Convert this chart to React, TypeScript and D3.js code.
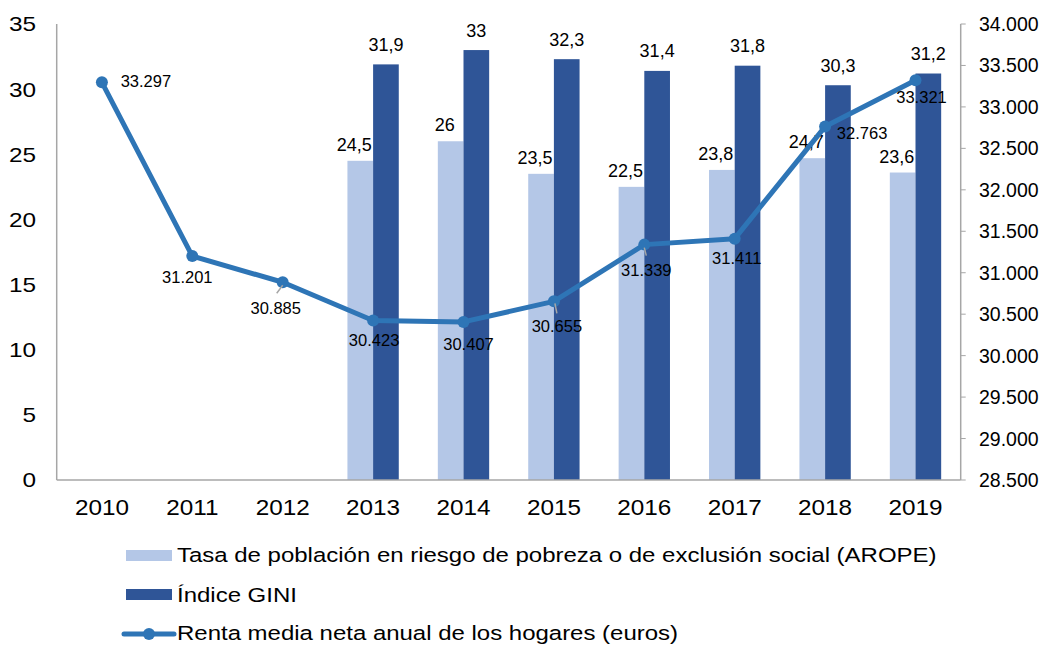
import React from 'react';
import * as d3 from 'd3';

const years = ['2010', '2011', '2012', '2013', '2014', '2015', '2016', '2017', '2018', '2019'];
const arope: (number | null)[] = [null, null, null, 24.5, 26, 23.5, 22.5, 23.8, 24.7, 23.6];
const gini: (number | null)[] = [null, null, null, 31.9, 33, 32.3, 31.4, 31.8, 30.3, 31.2];
const renta = [33297, 31201, 30885, 30423, 30407, 30655, 31339, 31411, 32763, 33321];
const leftTicks = [0, 5, 10, 15, 20, 25, 30, 35];
const rightTicks = [28500, 29000, 29500, 30000, 30500, 31000, 31500, 32000, 32500, 33000, 33500, 34000];
const legendLabels = [
  'Tasa de población en riesgo de pobreza o de exclusión social (AROPE)',
  'Índice GINI',
  'Renta media neta anual de los hogares (euros)',
];

// label placement (style), offset from point to label centre
const lineLabelOffsets = [
  [44, -1], [-5, 21], [-7, 26], [1, 19], [5, 22], [3, 25], [2, 25], [2, 19], [37, 6], [6, 17],
];
const leaders: { [k: number]: number[] } = {
  2: [-6, 11, 0, 3],
  5: [1, 2, 3, 12],
  6: [0, 3, 2, 11],
};

const LIGHT = '#B4C7E7';
const DARK = '#2F5597';
const LINE = '#2E75B6';
const AXIS = '#A6A6A6';
const FONT = "'Liberation Sans', Arial, sans-serif";

const loc = d3.formatLocale({ decimal: ',', thousands: '.', grouping: [3], currency: ['', ''] });
const fmtInt = loc.format(',d');
const fmtDec = (v: number) => String(v).replace('.', ',');

export default function App() {
  const left = 56.7, right = 960.7, top = 24, bottom = 480;
  const x = d3.scaleBand<string>().domain(years).range([left, right]).padding(0);
  const yL = d3.scaleLinear().domain([0, 35]).range([bottom, top]);
  const yR = d3.scaleLinear().domain([28500, 34000]).range([bottom, top]);
  const bw = x.bandwidth() * 0.284;
  const cx = (y: string) => (x(y) as number) + x.bandwidth() / 2;

  const line = d3.line<number>()
    .x((_, i) => cx(years[i]))
    .y((d) => yR(d));

  return (
    <svg width={1049} height={645} style={{ position: 'absolute', left: 0, top: 0, background: '#fff' }}
      fontFamily={FONT}>
      {/* bars */}
      {years.map((yr, i) => (
        <g key={yr}>
          {arope[i] != null && (
            <rect x={cx(yr) - bw} y={yL(arope[i] as number)} width={bw}
              height={bottom - yL(arope[i] as number)} fill={LIGHT} />
          )}
          {gini[i] != null && (
            <rect x={cx(yr)} y={yL(gini[i] as number)} width={bw}
              height={bottom - yL(gini[i] as number)} fill={DARK} />
          )}
        </g>
      ))}
      {/* axes */}
      <line x1={left} x2={left} y1={top} y2={bottom} stroke={AXIS} strokeWidth={1.5} />
      <line x1={right} x2={right} y1={top} y2={bottom} stroke={AXIS} strokeWidth={1.5} />
      <line x1={left} x2={right} y1={bottom} y2={bottom} stroke={AXIS} strokeWidth={1.5} />
      {rightTicks.map((t) => (
        <line key={t} x1={right} x2={right + 5} y1={yR(t)} y2={yR(t)} stroke={AXIS} strokeWidth={1} />
      ))}
      {leftTicks.map((t) => (
        <text key={t} transform={`translate(36,${yL(t)}) scale(1.16,1)`} textAnchor="end"
          dominantBaseline="central" fontSize={21} fill="#000">
          {t}
        </text>
      ))}
      {rightTicks.map((t) => (
        <text key={t} x={979} y={yR(t)} textAnchor="start" dominantBaseline="central" fontSize={19.5} fill="#000">
          {fmtInt(t)}
        </text>
      ))}
      {years.map((yr) => (
        <text key={yr} transform={`translate(${cx(yr)},508) scale(1.13,1)`} textAnchor="middle"
          dominantBaseline="central" fontSize={21.5} fill="#000">
          {yr}
        </text>
      ))}
      {/* bar labels */}
      {years.map((yr, i) => (
        <g key={'bl' + yr}>
          {arope[i] != null && (
            <text x={cx(yr) - bw / 2 - 6} y={yL(arope[i] as number) - 16} textAnchor="middle"
              dominantBaseline="central" fontSize={18} fill="#000">{fmtDec(arope[i] as number)}</text>
          )}
          {gini[i] != null && (
            <text x={cx(yr) + bw / 2} y={yL(gini[i] as number) - 19.5} textAnchor="middle"
              dominantBaseline="central" fontSize={18} fill="#000">{fmtDec(gini[i] as number)}</text>
          )}
        </g>
      ))}
      {/* line */}
      <path d={line(renta) || ''} fill="none" stroke={LINE} strokeWidth={5} strokeLinejoin="round" />
      {renta.map((v, i) => (
        <circle key={'c' + i} cx={cx(years[i])} cy={yR(v)} r={6} fill={LINE} />
      ))}
      {renta.map((v, i) => {
        const px = cx(years[i]), py = yR(v);
        const ld = leaders[i];
        return (
          <g key={'ll' + i}>
            {ld && (
              <line x1={px + ld[0]} y1={py + ld[1]} x2={px + ld[2]} y2={py + ld[3]} stroke={AXIS} strokeWidth={1.5} />
            )}
            <text x={px + lineLabelOffsets[i][0]} y={py + lineLabelOffsets[i][1]} textAnchor="middle"
              dominantBaseline="central" fontSize={16.5} fill="#000">{fmtInt(v)}</text>
          </g>
        );
      })}
      {/* legend */}
      <rect x={126} y={550} width={46} height={11} fill={LIGHT} />
      <text transform="translate(177,562) scale(1.17,1)" fontSize={20.5} fill="#000">{legendLabels[0]}</text>
      <rect x={126} y={589} width={46} height={11} fill={DARK} />
      <text transform="translate(177,601.5) scale(1.17,1)" fontSize={20.5} fill="#000">{legendLabels[1]}</text>
      <line x1={124} x2={174} y1={634} y2={634} stroke={LINE} strokeWidth={5} strokeLinecap="round" />
      <circle cx={149} cy={634} r={6} fill={LINE} />
      <text transform="translate(177,640) scale(1.17,1)" fontSize={20.5} fill="#000">{legendLabels[2]}</text>
    </svg>
  );
}
